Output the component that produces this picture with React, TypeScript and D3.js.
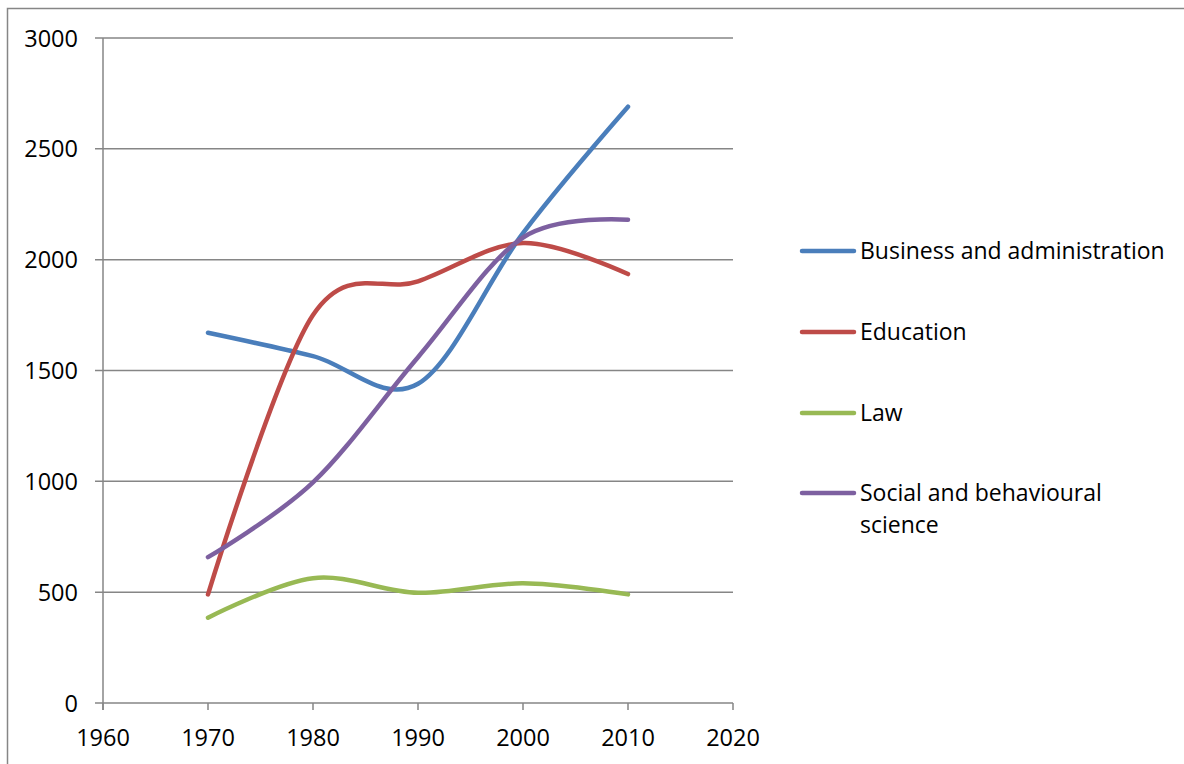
import React, { useEffect, useRef } from "react";
import * as d3 from "d3";

const years = [1970, 1980, 1990, 2000, 2010];
const business = [1670, 1565, 1440, 2120, 2690];
const education = [490, 1750, 1902, 2075, 1935];
const law = [385, 563, 497, 540, 490];
const social = [658, 995, 1560, 2100, 2180];
const seriesNames = ["Business and administration", "Education", "Law", "Social and behavioural science"];
const seriesColors = ["#4A7EBB", "#BE4B48", "#98B954", "#7D60A0"];
const xTicks = [1960, 1970, 1980, 1990, 2000, 2010, 2020];
const yTicks = [0, 500, 1000, 1500, 2000, 2500, 3000];

const W = 1184, H = 764;
const FONT = "'Open Sans', 'Noto Sans', sans-serif";

export default function App() {
  const ref = useRef<SVGSVGElement>(null);
  useEffect(() => {
    const svg = d3.select(ref.current);
    svg.selectAll("*").remove();
    const x = d3.scaleLinear().domain([1960, 2020]).range([103, 733]);
    const y = d3.scaleLinear().domain([0, 3000]).range([703, 38]);
    const grey = "#868686";

    // outer border
    svg.append("path").attr("d", `M7.5,${H} V8.5 H${W}`).attr("fill", "none").attr("stroke", grey).attr("stroke-width", 1.5);

    // gridlines
    svg.append("g").selectAll("line").data(yTicks.filter(v => v > 0)).join("line")
      .attr("x1", 95).attr("x2", 733).attr("y1", d => y(d)).attr("y2", d => y(d))
      .attr("stroke", grey).attr("stroke-width", 1.5);

    // axes
    svg.append("line").attr("x1", 95).attr("x2", 733).attr("y1", y(0)).attr("y2", y(0)).attr("stroke", grey).attr("stroke-width", 1.5);
    svg.append("line").attr("x1", 103).attr("x2", 103).attr("y1", y(3000)).attr("y2", 710).attr("stroke", grey).attr("stroke-width", 1.5);
    svg.append("g").selectAll("line").data(xTicks).join("line")
      .attr("x1", d => x(d)).attr("x2", d => x(d)).attr("y1", y(0)).attr("y2", 710)
      .attr("stroke", grey).attr("stroke-width", 1.5);

    // labels
    svg.append("g").selectAll("text").data(yTicks).join("text")
      .attr("x", 78).attr("y", d => y(d) + 8.5).attr("text-anchor", "end")
      .attr("font-family", FONT).attr("font-size", 23.5).attr("fill", "#000").text(d => String(d));
    svg.append("g").selectAll("text").data(xTicks).join("text")
      .attr("x", d => x(d)).attr("y", 746).attr("text-anchor", "middle")
      .attr("font-family", FONT).attr("font-size", 23.5).attr("fill", "#000").text(d => String(d));

    const all = [business, education, law, social];
    const line = d3.line<[number, number]>().x(d => x(d[0])).y(d => y(d[1])).curve(d3.curveCatmullRom.alpha(0));
    all.forEach((vals, i) => {
      const pts = years.map((yr, j) => [yr, vals[j]] as [number, number]);
      svg.append("path").attr("d", line(pts)!).attr("fill", "none")
        .attr("stroke", seriesColors[i]).attr("stroke-width", 4.5).attr("stroke-linecap", "round").attr("stroke-linejoin", "round");
    });

    // legend
    const ly = [251, 332, 413, 493];
    seriesNames.forEach((name, i) => {
      svg.append("line").attr("x1", 802).attr("x2", 854).attr("y1", ly[i]).attr("y2", ly[i])
        .attr("stroke", seriesColors[i]).attr("stroke-width", 4.5).attr("stroke-linecap", "round");
      const t = svg.append("text").attr("x", 860).attr("y", ly[i] + 8)
        .attr("font-family", FONT).attr("font-size", 23).attr("fill", "#000");
      if (i === 3) {
        t.append("tspan").attr("x", 860).text("Social and behavioural");
        t.append("tspan").attr("x", 860).attr("dy", 32).text("science");
      } else t.text(name);
    });
  }, []);
  return <svg ref={ref} width={W} height={H} style={{ position: "absolute", left: 0, top: 0, background: "#fff" }} />;
}
